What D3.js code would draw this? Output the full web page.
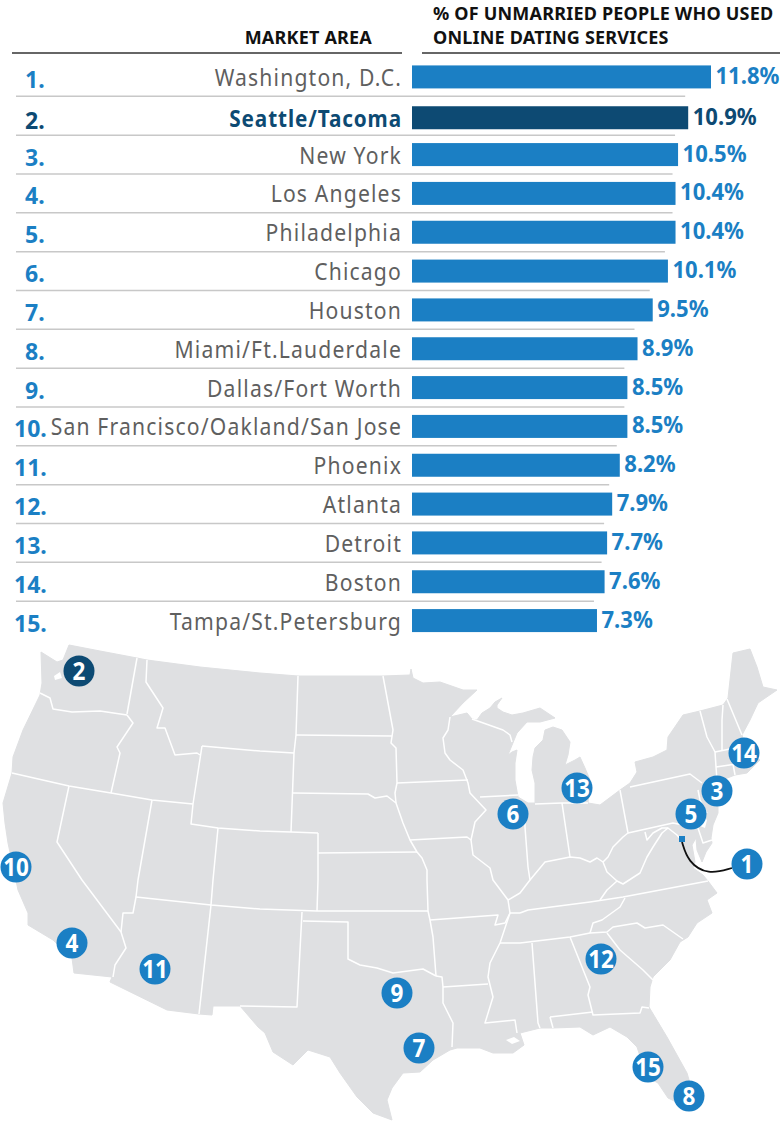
<!DOCTYPE html>
<html><head><meta charset="utf-8">
<style>html,body{margin:0;padding:0;background:#fff}svg{display:block}text{font-family:"Noto Sans",sans-serif}</style>
<script src="https://cdn.jsdelivr.net/npm/d3@7"></script></head>
<body><svg id="c" width="780" height="1122"></svg>
<script>
const markets=["Washington, D.C.","Seattle/Tacoma","New York","Los Angeles","Philadelphia","Chicago","Houston","Miami/Ft.Lauderdale","Dallas/Fort Worth","San Francisco/Oakland/San Jose","Phoenix","Atlanta","Detroit","Boston","Tampa/St.Petersburg"];
const shares=[11.8,10.9,10.5,10.4,10.4,10.1,9.5,8.9,8.5,8.5,8.2,7.9,7.7,7.6,7.3];
const ranks=d3.range(1,16);
const highlight="Seattle/Tacoma";
const pinRanks=[2,10,4,11,9,7,6,13,14,3,5,1,12,15,8];
const pinX=[79,16,72,155,397,419,513,577,744,717,691,747,601,648,689];
const pinY=[671,867,943,969,993,1048,814,788,753,791,814,864,959,1067,1096];
const landOutline=[[41,652],[57,662],[63,660],[69,645],[100,651],[137,658],[147,660],[200,667],[260,673],[298,676],[383,676],[410,675],[411,669],[413,678],[423,683],[440,682],[463,690],[477,690],[463,703],[450,717],[467,713],[472,719],[477,720],[482,713],[490,708],[495,702],[502,698],[497,705],[497,708],[503,712],[512,715],[523,713],[540,708],[555,718],[540,722],[527,722],[517,733],[508,755],[512,752],[517,750],[515,763],[515,780],[518,797],[528,803],[535,803],[535,783],[532,770],[533,757],[535,748],[543,740],[545,730],[553,727],[562,730],[570,742],[568,755],[565,765],[575,760],[580,757],[585,768],[590,780],[588,803],[600,805],[620,790],[630,783],[637,772],[635,762],[653,757],[667,750],[668,737],[683,715],[700,711],[723,705],[728,698],[733,653],[750,649],[757,667],[763,687],[777,690],[758,703],[750,720],[742,735],[745,745],[752,756],[760,760],[747,773],[735,775],[717,782],[722,790],[718,800],[718,813],[713,825],[711,838],[712,843],[706,852],[702,862],[697,850],[696,838],[692,845],[695,862],[693,868],[703,875],[708,881],[717,893],[707,900],[712,913],[697,923],[688,937],[680,942],[670,960],[653,977],[650,987],[649,1007],[667,1037],[687,1073],[692,1090],[687,1107],[668,1098],[658,1083],[647,1077],[637,1047],[627,1037],[610,1027],[593,1035],[580,1027],[553,1028],[540,1028],[520,1033],[524,1045],[513,1053],[493,1053],[480,1048],[457,1048],[450,1050],[433,1060],[420,1072],[403,1073],[392,1088],[387,1100],[392,1120],[373,1113],[357,1097],[340,1073],[330,1057],[308,1050],[293,1065],[273,1052],[265,1033],[258,1027],[240,1006],[213,1006],[212,1015],[199,1014],[167,1010],[110,982],[112,977],[74,973],[72,958],[53,940],[28,925],[28,913],[18,890],[8,843],[5,823],[3,803],[12,773],[13,757],[23,730],[40,695],[42,683]];
const waterBodies=[[[54,676],[60,672],[62,678],[55,680]],[[702,815],[707,820],[705,828],[700,826]],[[506,1040],[514,1037],[520,1041],[512,1044]]];
const stateBorders=[
[[137,658],[127,714]],
[[40,693],[50,698],[53,709],[72,712],[100,711],[127,715]],
[[127,715],[133,723],[117,747],[120,753],[111,793]],
[[12,773],[69,786],[111,793],[152,800],[193,804]],
[[69,786],[57,842],[82,880],[121,932],[126,948],[115,965],[113,977]],
[[152,800],[138,880],[136,897],[133,913],[123,913],[121,932]],
[[136,897],[211,905],[260,909],[317,911],[428,911]],
[[211,905],[199,1014]],
[[202,746],[193,804],[191,824],[218,828],[260,831],[291,832],[318,833]],
[[218,828],[213,880],[211,905]],
[[202,746],[260,751],[294,753]],
[[147,660],[146,682],[163,708],[157,728],[165,728],[175,755],[197,753],[200,755]],
[[298,676],[296,735],[294,753],[291,832]],
[[296,735],[392,736]],
[[383,676],[393,730],[391,743],[396,748],[397,783],[395,793],[396,803]],
[[293,793],[368,794],[375,798],[387,796],[396,803],[403,823],[410,840],[417,852],[422,858],[427,870],[427,880],[428,911],[430,920],[433,937],[436,976]],
[[397,783],[468,780]],
[[410,840],[467,837],[471,840]],
[[318,853],[417,852]],
[[318,833],[318,880],[317,911]],
[[450,717],[448,730],[443,738],[445,753],[450,760],[463,770],[468,783],[470,793],[486,810],[475,822],[471,840],[473,855],[490,868],[493,880],[508,900],[510,913],[500,943],[490,963],[488,977],[493,997],[485,1023],[515,1020],[517,1033]],
[[480,797],[518,795]],
[[472,719],[503,730],[510,735],[512,742]],
[[525,805],[525,827],[528,867],[530,880],[520,893],[508,900]],
[[530,880],[545,862],[570,857],[580,858],[590,862],[597,858],[603,862],[607,872],[617,881],[607,890],[600,900]],
[[535,804],[562,803],[588,803]],
[[562,803],[570,857]],
[[620,790],[628,833],[623,837],[613,847],[608,857],[603,862]],
[[628,833],[673,823],[698,828]],
[[630,787],[690,774],[702,783]],
[[698,790],[700,800],[707,813]],
[[698,828],[703,843],[712,840]],
[[617,881],[623,884],[640,873],[647,857],[653,847],[662,833],[668,828],[677,835],[682,841]],
[[645,832],[647,840],[653,833],[662,828],[668,828]],
[[520,913],[528,910],[590,902],[623,897],[708,881]],
[[625,898],[620,907],[602,920],[593,923],[590,933]],
[[500,943],[520,943],[570,937],[590,933],[607,932],[613,927],[637,923],[645,928],[663,925],[683,939]],
[[607,933],[620,950],[643,970],[653,980]],
[[570,937],[590,987],[588,995],[593,1015],[640,1013],[642,1007],[649,1008]],
[[550,1017],[593,1012]],[[550,1017],[553,1028]],
[[532,943],[538,1023],[540,1028]],
[[443,987],[488,984]],
[[436,976],[442,977],[443,987],[443,1003],[453,1023],[452,1047]],
[[303,921],[348,922],[348,959],[360,965],[377,968],[393,973],[423,969],[436,976]],
[[302,912],[297,1007],[240,1006]],
[[430,920],[498,915],[495,925],[505,923],[510,913],[520,913]],
[[700,711],[707,737],[715,752],[716,767],[717,780]],
[[723,705],[722,720],[722,751]],
[[727,699],[742,735]],
[[715,752],[740,747]],
[[716,767],[743,763]],
[[733,764],[735,775]]
];
const blue="#1b7fc4",navy="#0d4a73",grey="#5f5f5f",rule="#c8c8c8",land="#dfe0e2";

const svg=d3.select("#c");
const x=d3.scaleLinear().domain([0,11.8]).range([412,711]);
const y=d3.scaleBand().domain(markets).range([57.5,640]).paddingInner(0);
const cy=m=>y(m)+y.bandwidth()/2+(m===highlight?2:0);
const barH=23;
function tx(sel,px,py,sx){return sel.attr("transform",`translate(${px},${py}) scale(${sx},1)`);}

// headers
svg.append("line").attr("x1",12).attr("x2",402).attr("y1",53).attr("y2",53).attr("stroke","#333").attr("stroke-width",1.5);
svg.append("line").attr("x1",422).attr("x2",780).attr("y1",53).attr("y2",53).attr("stroke","#333").attr("stroke-width",1.5);
const hdr=(s,px,py,a)=>tx(svg.append("text").text(s).attr("text-anchor",a).attr("font-size",18).attr("font-weight",700).attr("fill","#111").attr("letter-spacing",.2),px,py,1);
hdr("MARKET AREA",372,44,"end");
hdr("% OF UNMARRIED PEOPLE WHO USED",433,19.5,"start");
hdr("ONLINE DATING SERVICES",433,44,"start");

// rows
const row=svg.append("g");
row.selectAll("line").data(markets.slice(0,-1)).join("line")
 .attr("x1",16).attr("x2",(m,i)=>x(shares[i+1])-3)
 .attr("y1",m=>y(m)+y.bandwidth()).attr("y2",m=>y(m)+y.bandwidth())
 .attr("stroke",rule).attr("stroke-width",1.5);
row.selectAll("rect").data(markets).join("rect")
 .attr("x",x(0)).attr("width",(m,i)=>x(shares[i])-x(0))
 .attr("y",m=>cy(m)-barH/2).attr("height",barH)
 .attr("fill",m=>m===highlight?navy:blue);
markets.forEach((m,i)=>{
 const c=m===highlight?navy:blue;
 const base=cy(m)+8;
 tx(row.append("text").text(ranks[i]+".").attr("font-size",24).attr("font-weight",700).attr("fill",c),ranks[i]>=10?14:25,base+3,0.96);
 tx(row.append("text").text(m).attr("text-anchor","end").attr("font-size",23).attr("font-weight",m===highlight?700:400).attr("letter-spacing",m===highlight?1:1.27).attr("fill",m===highlight?navy:grey),402,base+1,m===highlight?0.9:0.92);
 tx(row.append("text").text(shares[i].toFixed(1)+"%").attr("font-size",24).attr("font-weight",700).attr("fill",c),x(shares[i])+4.5,base-1,0.92);
});

// map
const line=d3.line();
const map=svg.append("g");
map.append("path").attr("d",line(landOutline)+"Z").attr("fill",land).attr("stroke",land).attr("stroke-width",1).attr("stroke-linejoin","round");
map.selectAll(".w").data(waterBodies).join("path").attr("class","w").attr("d",d=>line(d)+"Z").attr("fill","#fff");
map.selectAll(".b").data(stateBorders).join("path").attr("class","b").attr("d",line).attr("fill","none").attr("stroke","#fff").attr("stroke-width",1.5).attr("stroke-linejoin","round");

// DC marker & leader
const i1=pinRanks.indexOf(1);
map.append("path").attr("d",d3.line().curve(d3.curveBasis)([[682,842],[688,862],[708,875],[pinX[i1]-15,pinY[i1]+4]])).attr("fill","none").attr("stroke","#111").attr("stroke-width",1.8);
map.append("rect").attr("x",679).attr("y",836).attr("width",6).attr("height",6).attr("fill",blue);

const pins=map.selectAll(".p").data(pinRanks).join("g").attr("class","p").attr("transform",(d,i)=>`translate(${pinX[i]},${pinY[i]})`);
pins.append("circle").attr("r",15.5).attr("fill",d=>d===2?navy:blue);
pins.append("text").text(d=>d).attr("text-anchor","middle").attr("y",9).attr("font-size",25).attr("font-weight",700).attr("fill","#fff").attr("transform","scale(.9,1)");
</script></body></html>
